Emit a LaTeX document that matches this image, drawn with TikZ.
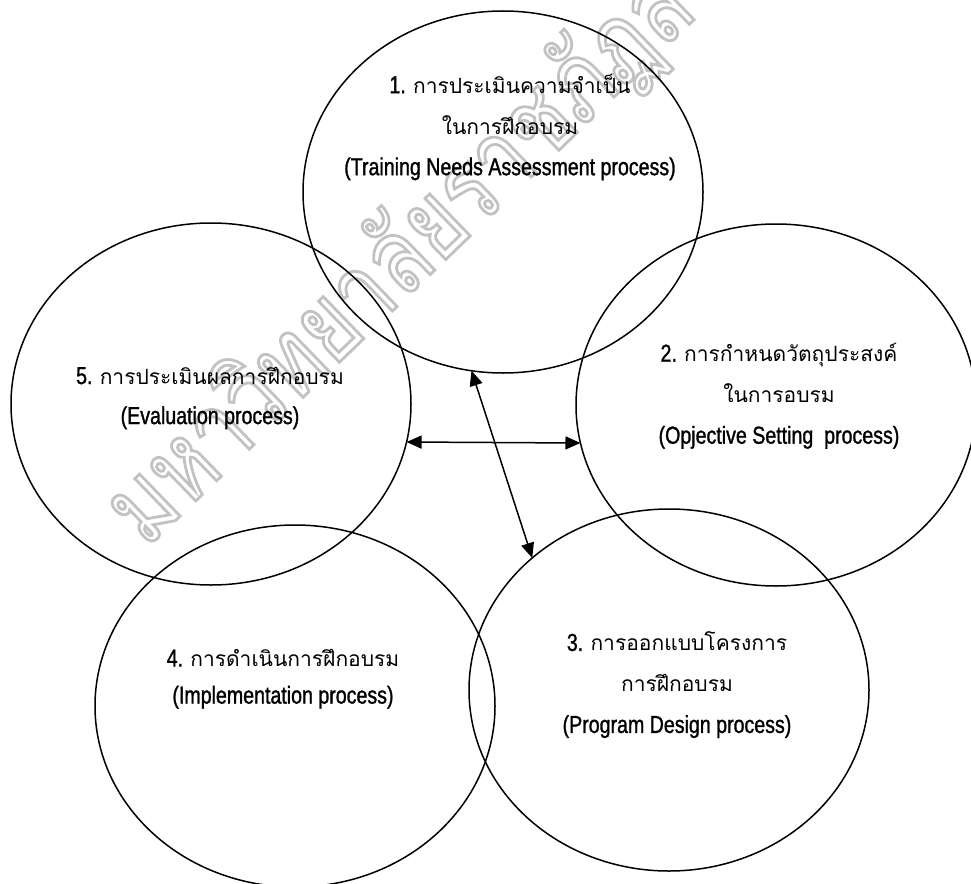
\documentclass[tikz,border=0pt]{standalone}
\usepackage{fontspec}
\setmainfont{Liberation Sans}
\newfontfamily\thaifont[Script=Thai]{Loma}
\newfontfamily\markfont[Script=Thai,FakeStretch=0.8]{Loma}
\newfontfamily\narrowfont[FakeStretch=0.8,FakeBold=1.2]{Liberation Sans}
\usetikzlibrary{shapes.geometric,arrows.meta}

% Thai text run inside a label
\newcommand\thl[1]{{\thaifont\fontsize{21}{41}\selectfont #1}}
% hollow (outlined) lettering for the background mark
\newcommand\hollow[1]{\special{pdf:literal direct 1 Tr 2.8 w}#1\special{pdf:literal direct 0 Tr}}

\tikzset{
  ring/.style={ellipse, draw, line width=1.5pt, inner sep=0pt, outer sep=0pt,
               minimum width=400pt, minimum height=362pt},
  label/.style={align=center, inner sep=0pt,
                font=\narrowfont\fontsize{24.5}{41}\selectfont},
  link/.style={line width=1.5pt, {Triangle[length=15pt,width=13pt]}-{Triangle[length=15pt,width=13pt]}}
}

\begin{document}
\begin{tikzpicture}[x=1pt,y=-1pt]
  \useasboundingbox (0,0) rectangle (971,883);
  \clip (0,0) rectangle (971,883);

  % background mark
  \begin{scope}
    \node[rotate=44, anchor=base west, inner sep=0pt, text=black!24,
          font=\markfont\fontsize{105}{110}\selectfont] (wm) at (146,549)
          {\hollow{มหาวิทยาลัยราชภัฏสวนสุนันทา}};
  \end{scope}

  % the five process rings
  \node[ring] (c1) at (503,192) {};
  \node[ring] (c2) at (776,405) {};
  \node[ring] (c3) at (669,690) {};
  \node[ring] (c4) at (295,706) {};
  \node[ring] (c5) at (211,404) {};

  % links between the rings
  \draw[link] (c5.-11) -- (c2.-169);
  \draw[link] (c1.-100) -- (c3.136);

  % ring labels
  \node[label] (t1) at (510,127) {1. \thl{การประเมินความจำเป็น}\\ \thl{ในการฝึกอบรม}\\ (Training Needs Assessment process)};
  \node[label] (t2) at (779,396) {2. \thl{การกำหนดวัตถุประสงค์}\\ \thl{ในการอบรม}\\ (Opjective Setting\ \ process)};
  \node[label] (t3) at (677,685) {3. \thl{การออกแบบโครงการ}\\ \thl{การฝึกอบรม}\\ (Program Design process)};
  \node[label, font=\narrowfont\fontsize{24.5}{37}\selectfont] (t4) at (283,679) {4. \thl{การดำเนินการฝึกอบรม}\\ (Implementation process)};
  \node[label, font=\narrowfont\fontsize{24.5}{40}\selectfont] (t5) at (210,398) {5. \thl{การประเมินผลการฝึกอบรม}\\ (Evaluation process)};
\end{tikzpicture}
\end{document}
